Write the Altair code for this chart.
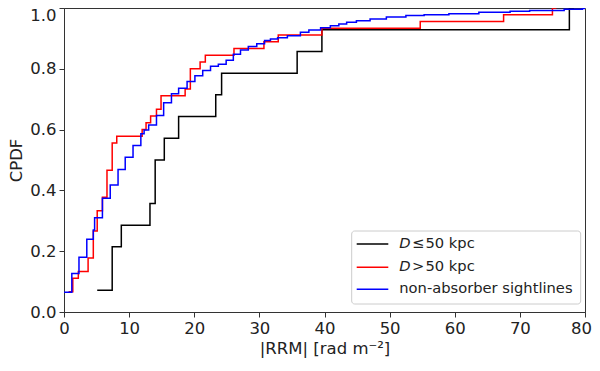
import altair as alt
import pandas as pd

# ---------------- data ----------------
x_ticks = [0, 10, 20, 30, 40, 50, 60, 70, 80]
y_ticks = [0.0, 0.2, 0.4, 0.6, 0.8, 1.0]

series_names = ["D<=50 kpc", "D>50 kpc", "non-absorber sightlines"]
series_colors = ["#000000", "#ff0000", "#0000ff"]

# D <= 50 kpc : 14 sightlines (step positions, cumulative count)
near_x = [5.1, 7.4, 8.8, 13.2, 14.0, 15.4, 17.6, 23.3, 24.2, 35.8, 39.6, 77.6, 78.3]
near_n = [1, 3, 4, 5, 7, 8, 9, 10, 11, 12, 13, 14, 14]
near_total = 14

# D > 50 kpc : 45 sightlines
far_x = [0.7, 1.35, 2.2, 3.7, 4.5, 5.1, 5.9, 6.6, 7.4, 8.1, 12.0, 12.6, 13.3, 14.2,
         14.9, 18.6, 19.4, 20.9, 21.7, 26.1, 30.7, 32.9, 39.6, 54.7, 67.5, 75.0, 75.6]
far_n = [3, 5, 6, 8, 12, 15, 17, 21, 25, 26, 27, 28, 29, 30,
         32, 33, 36, 37, 38, 39, 40, 41, 42, 43, 44, 45, 45]
far_total = 45

# non-absorber sightlines : cumulative fraction at each step
non_x = [0.0, 1.2, 2.3, 3.5, 4.5, 4.7, 5.9, 7.1, 8.3, 9.4, 10.6, 11.8, 12.3, 13.0,
         14.2, 15.3, 16.5, 17.6, 18.9, 20.1, 21.3, 22.5, 23.7, 24.9, 26.0, 27.1,
         28.3, 29.6, 30.8, 31.7, 32.8, 34.3, 36.3, 37.6, 39.4, 40.9, 42.2, 43.4,
         44.9, 47.0, 49.5, 52.5, 55.3, 59.1, 63.7, 68.5, 71.5, 76.8, 79.6, 81.0]
non_frac = [0.065, 0.127, 0.180, 0.239, 0.270, 0.310, 0.374, 0.418, 0.469, 0.509,
            0.548, 0.586, 0.599, 0.615, 0.646, 0.688, 0.718, 0.736, 0.758, 0.777,
            0.794, 0.808, 0.815, 0.828, 0.848, 0.862, 0.873, 0.882, 0.893, 0.898,
            0.902, 0.909, 0.920, 0.928, 0.935, 0.942, 0.947, 0.953, 0.958, 0.964,
            0.970, 0.975, 0.978, 0.981, 0.986, 0.989, 0.992, 0.996, 0.998, 0.998]

# ---------------- table ----------------
rows = []
for i, (x, n) in enumerate(zip(near_x, near_n)):
    rows.append({"x": x, "y": n / near_total, "s": series_names[0], "i": i})
for i, (x, n) in enumerate(zip(far_x, far_n)):
    rows.append({"x": x, "y": n / far_total, "s": series_names[1], "i": i})
for i, (x, f) in enumerate(zip(non_x, non_frac)):
    rows.append({"x": x, "y": f, "s": series_names[2], "i": i})
df = pd.DataFrame(rows)

FONT = "DejaVu Sans"
TXT = "#222222"

xscale = alt.Scale(domain=[0, 80], nice=False, zero=False)
yscale = alt.Scale(domain=[0, 1], nice=False)

x_axis = alt.Axis(values=x_ticks, format="d", title="|RRM| [rad m⁻²]",
                  titlePadding=4, labelFlush=False,
                  labelOffset={"condition": {"test": "datum.value == 80", "value": -4},
                               "value": 0})
y_axis = alt.Axis(values=y_ticks, format=".1f", title="CPDF", titlePadding=5,
                  labelFlush=False,
                  labelOffset={"condition": {"test": "datum.value == 1", "value": 7},
                               "value": 0})


def series_layer(k):
    return (
        alt.Chart(df)
        .transform_filter(alt.datum.s == series_names[k])
        .mark_line(interpolate="step-after", strokeWidth=1.5, clip=True,
                   color=series_colors[k])
        .encode(x=alt.X("x:Q", scale=xscale, axis=x_axis),
                y=alt.Y("y:Q", scale=yscale, axis=y_axis),
                order="i:Q")
    )


one = alt.Data(values=[{}])


def txt(s, x, y, italic=False):
    return alt.Chart(one).mark_text(
        text=s, align="left", baseline="middle", font=FONT, fontSize=14.7,
        fontStyle="italic" if italic else "normal", color=TXT
    ).encode(x=alt.value(x), y=alt.value(y))


def sample(color, y):
    return alt.Chart(one).mark_rule(color=color, strokeWidth=1.5).encode(
        x=alt.value(292.7), x2=alt.value(324.3), y=alt.value(y))


legend_box = alt.Chart(one).mark_rect(
    fill="white", fillOpacity=0.8, stroke="#cccccc", strokeWidth=1, cornerRadius=3
).encode(x=alt.value(287.7), x2=alt.value(516.7), y=alt.value(223), y2=alt.value(296))

row_y = [236, 259.3, 281.3]
legend = [
    legend_box,
    sample(series_colors[0], row_y[0]),
    sample(series_colors[1], row_y[1]),
    sample(series_colors[2], row_y[2]),
    txt("D", 335.3, row_y[0], italic=True),
    txt("≤", 348, row_y[0]),
    txt("50 kpc", 361.5, row_y[0]),
    txt("D", 335.3, row_y[1], italic=True),
    txt(">", 348, row_y[1]),
    txt("50 kpc", 361.5, row_y[1]),
    txt("non-absorber sightlines", 335.3, row_y[2]),
]

chart = (
    alt.layer(series_layer(0), series_layer(1), series_layer(2), *legend)
    .properties(width=521, height=304,
                autosize=alt.AutoSizeParams(type="none"),
                padding={"left": 56, "top": 0, "right": 7, "bottom": 51})
    .configure_view(stroke="#333333", strokeWidth=1)
    .configure_axis(
        grid=False, labelFont=FONT, labelFontSize=16.5, labelColor=TXT,
        titleFont=FONT, titleFontSize=16.5, titleFontWeight="normal", titleColor=TXT,
        domainColor="#333333", tickColor="#333333", tickSize=5, labelPadding=3,
        domainWidth=1, tickWidth=1,
    )
)

chart.save("out.html", embed_options={"renderer": "svg", "actions": False})
